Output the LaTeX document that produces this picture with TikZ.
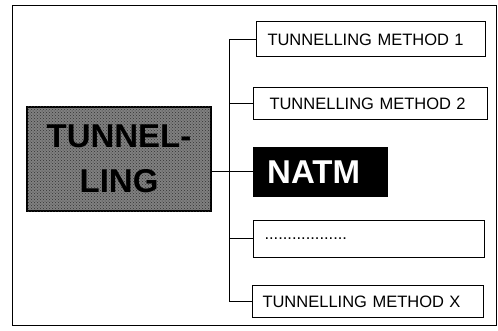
\documentclass[tikz,border=0pt]{standalone}
\usepackage{fontspec}
\setmainfont{Liberation Sans}
\usetikzlibrary{positioning,patterns}
\tikzset{
  frame/.style={draw, line width=0.9pt},
  topicbox/.style={rectangle, draw, line width=1.2pt, fill=black!50,
                   postaction={pattern=crosshatch dots, pattern color=black!80},
                   font=\bfseries\fontsize{33}{45}\selectfont, align=center,
                   minimum width=184pt, minimum height=104pt},
  methodbox/.style={rectangle, draw, line width=1pt, fill=white,
                    font=\fontsize{16.5}{18}\selectfont, align=left,
                    inner xsep=11pt, inner ysep=0pt, text width=209pt,
                    minimum height=33pt},
  natmbox/.style={rectangle, fill=black, text=white,
                  font=\bfseries\fontsize{33}{36}\selectfont, align=left,
                  inner xsep=14pt, text width=107pt, minimum height=50pt},
  branch/.style={line width=1pt},
}
\begin{document}
\begin{tikzpicture}
  \useasboundingbox (0,0) rectangle (498pt,330pt);
  \draw[frame] (12pt,5pt) rectangle (496pt,325pt);
  % main topic
  \node[topicbox] (tunnel) at (119pt,171pt) {TUNNEL-\\LING};
  % methods
  \node[methodbox, anchor=west, minimum height=35pt, text width=207pt] (m1) at (256pt,290.5pt) {TUNNELLING METHOD 1};
  \node[methodbox, below right=30pt and -3pt of m1.south west, minimum height=31pt,
        inner xsep=16pt, text width=202pt] (m2) {TUNNELLING METHOD 2};
  \node[natmbox, below right=27pt and 0pt of m2.south west] (natm) {NATM};
  \node[methodbox, below right=23pt and 0pt of natm.south west, minimum height=37pt] (dots) {..................};
  \node[methodbox, below right=27pt and -1pt of dots.south west, inner xsep=10pt,
        text width=211pt, minimum height=32pt] (mx) {TUNNELLING METHOD X};
  % connectors
  \coordinate (spine) at (229pt,0);
  \draw[branch] (spine |- m1.west) -- (spine |- mx.west);
  \foreach \n in {m1,m2,dots,mx}
    \draw[branch] (spine |- \n.west) -- (\n.west);
  \draw[branch] (tunnel.east |- natm.west) -- (natm.west);
\end{tikzpicture}
\end{document}
